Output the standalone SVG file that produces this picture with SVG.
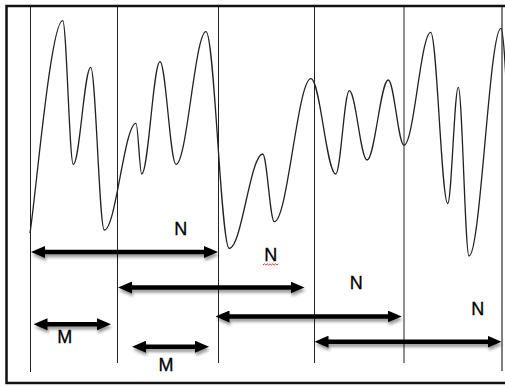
<svg xmlns="http://www.w3.org/2000/svg" width="505" height="387" viewBox="0 0 505 387">
<style>
.frame{fill:none;stroke:#111;stroke-width:2.5}
.vline{stroke:#222;stroke-width:1;fill:none}
.wave{fill:none;stroke:#222;stroke-width:1.3}
.arrow{stroke:#000;stroke-width:4.6;fill:none;marker-start:url(#head);marker-end:url(#head)}
.lbl{font-family:"Liberation Sans",Arial,sans-serif;font-size:18px;fill:#000;stroke:#000;stroke-width:0.3;text-anchor:middle}
</style>
<defs>
<marker id="head" markerUnits="userSpaceOnUse" viewBox="0 0 14 12" refX="3" refY="6" markerWidth="14" markerHeight="12" orient="auto-start-reverse">
<path d="M0,0 L14,6 L0,12 z" fill="#000"/>
</marker>
<filter id="shadow" x="-10%" y="-100%" width="120%" height="300%">
<feDropShadow dx="1" dy="3" stdDeviation="1.5" flood-color="#000" flood-opacity="0.4"/>
</filter>
</defs>
<rect class="frame" x="6.5" y="6" width="520" height="377"/>
<g id="grid">
<line class="vline" x1="30.5" y1="7" x2="30.5" y2="372"/>
<line class="vline" x1="117.5" y1="7" x2="117.5" y2="363"/>
<line class="vline" x1="218.5" y1="7" x2="218.5" y2="363"/>
<line class="vline" x1="314.5" y1="7" x2="314.5" y2="363"/>
<line class="vline" x1="404" y1="7" x2="404" y2="363"/>
<line x1="502" y1="7" x2="502" y2="371" stroke="#555" stroke-width="1.5"/>
</g>
<g id="waveform">
<path class="wave" d="M30,233 C36,194 50.8,20.7 62.7,20.7 C66.56,20.7 69.44,164.3 73.3,164.3 C79.63,164.3 84.37,67.3 90.7,67.3 C95.65,67.3 99.35,230 104.3,230 C115.84,230 124.46,123.3 136,123.3 C138.07,123.3 139.63,174 141.7,174 C148.36,174 153.34,61.7 160,61.7 C165.82,61.7 170.18,164.3 176,164.3 C186.92,164.3 195.08,31.7 206,31.7 C214.48,31.7 220.82,248.5 229.3,248.5 C241.46,248.5 250.54,154 262.7,154 C266.92,154 270.08,221.7 274.3,221.7 C287.66,221.7 297.64,78.7 311,78.7 C319.99,78.7 326.71,174 335.7,174 C340.65,174 344.35,90.7 349.3,90.7 C355.74,90.7 360.56,160 367,160 C374.75,160 380.55,80 388.3,80 C394.01,80 398.29,145.3 404,145.3 C413.72,145.3 420.98,32.3 430.7,32.3 C436.89,32.3 441.51,203.5 447.7,203.5 C451.56,203.5 454.44,87.3 458.3,87.3 C462.19,87.3 465.11,256 469,256 C480.65,256 489.35,28.3 501,28.3 C505,28.3 509,150 512,200"/>
</g>
<g id="connectors" filter="url(#shadow)">
<line id="arrow-N1" class="arrow" x1="42" y1="252" x2="207" y2="252"/>
<line id="arrow-N2" class="arrow" x1="129" y1="287.5" x2="293.5" y2="287.5"/>
<line id="arrow-N3" class="arrow" x1="226.5" y1="316.5" x2="390.7" y2="316.5"/>
<line id="arrow-N4" class="arrow" x1="325.5" y1="341.7" x2="490.5" y2="341.7"/>
<line id="arrow-M1" class="arrow" x1="44.5" y1="324.3" x2="100" y2="324.3"/>
<line id="arrow-M2" class="arrow" x1="143" y1="346.7" x2="198" y2="346.7"/>
</g>
<g id="label-N1"><text class="lbl" x="180.7" y="234.5">N</text></g>
<g id="label-N2"><text class="lbl" x="270.7" y="260.5">N</text>
<path d="M263,265 l1.4,-1.2 l1.4,1.2 l1.4,-1.2 l1.4,1.2 l1.4,-1.2 l1.4,1.2 l1.4,-1.2 l1.4,1.2 l1.4,-1.2 l1.4,1.2 l1.4,-1.2" fill="none" stroke="#e02020" stroke-width="0.9"/></g>
<g id="label-N3"><text class="lbl" x="356.3" y="288.5">N</text></g>
<g id="label-N4"><text class="lbl" x="477.7" y="315">N</text></g>
<g id="label-M1"><text class="lbl" x="64.7" y="342.5">M</text></g>
<g id="label-M2"><text class="lbl" x="166" y="371">M</text></g>
</svg>
